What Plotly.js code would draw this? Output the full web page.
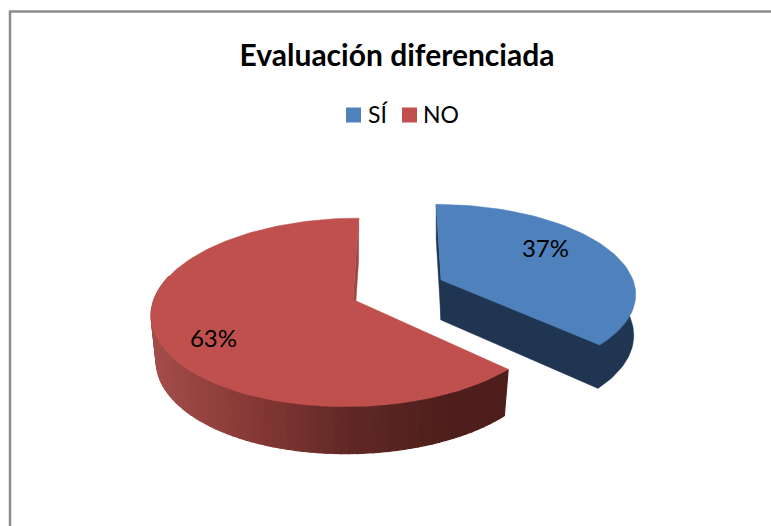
<!DOCTYPE html>
<html>
<head>
<meta charset="utf-8">
<script src="https://cdn.plot.ly/plotly-3.0.1.min.js"></script>
<style>html,body{margin:0;padding:0;background:#fff;overflow:hidden}</style>
</head>
<body>
<div id="chart" style="width:771px;height:526px"></div>
<script>
const titleText = 'Evaluación diferenciada';
const categories = ['SÍ', 'NO'];
const values = [37, 63];
const faceColors = ['#4f81bd', '#c0504d'];

const k = 0.137;
const blue = {cx: 441, cy: 280, rx: 192, ry: 86, shear: 5.5, d0: 40, d1: 5, wallScale: 0.99};
const red = {cx: 353, cy: 299.5, rx: 199, ry: 92.5, shear: -6.5, d0: 45, d1: 2, wallScale: 0.975};

const total = values[0] + values[1];
const sweep0 = values[0] / total * 360;

function upper(g, deg, r) {
  const t = deg * Math.PI / 180, u = Math.sin(t) * r, w = -Math.cos(t) * r, D = 1 - k * w;
  return [g.cx + (g.rx * u + g.shear * w) / D, g.cy + g.ry * w / D, w];
}
function lower(g, deg, r) {
  const p = upper(g, deg, r);
  return [g.cx + (p[0] - g.cx) * g.wallScale, p[1] + g.d0 + g.d1 * p[2]];
}
function arc(fn, g, a, b, n) {
  const out = [];
  for (let i = 0; i <= n; i++) out.push(fn(g, a + (b - a) * i / n, 1));
  return out;
}
function poly(points, color, line) {
  return {
    type: 'scatter', mode: 'lines', fill: 'toself', fillcolor: color,
    x: points.map(p => p[0]).concat([points[0][0]]),
    y: points.map(p => p[1]).concat([points[0][1]]),
    line: {color: color, width: line || 0.5}, hoverinfo: 'skip', showlegend: false
  };
}
const wallStops = [[155, [163, 76, 73]], [250, [134, 57, 54]], [345, [98, 41, 38]], [450, [77, 30, 27]], [520, [77, 30, 27]]];
function stopColor(x) {
  let c = wallStops[0][1];
  for (let i = 1; i < wallStops.length; i++) {
    if (x >= wallStops[i - 1][0]) {
      const f = Math.min(1, (x - wallStops[i - 1][0]) / (wallStops[i][0] - wallStops[i - 1][0]));
      c = wallStops[i - 1][1].map((v, j) => Math.round(v + (wallStops[i][1][j] - v) * f));
    }
  }
  return 'rgb(' + c.join(',') + ')';
}

const traces = [];

// blue walls
const blueWall = '#1f3551';
const bApex = upper(blue, 0, 0), bApexLow = lower(blue, 0, 0);
traces.push(poly([upper(blue, 0, 1), lower(blue, 0, 1), bApexLow, bApex], blueWall));
traces.push(poly([bApex, bApexLow].concat(arc(lower, blue, sweep0, 72, 40)).concat([upper(blue, 72, 1)]), blueWall));
traces.push(poly([bApex].concat(arc(upper, blue, 0, sweep0, 60)), faceColors[0], 0.5));

// red walls
const rApex = upper(red, 0, 0), rApexLow = lower(red, 0, 0);
traces.push(poly([upper(red, 360, 1), lower(red, 360, 1), rApexLow, rApex], '#9a4846'));
const strip = 2;
for (let a = sweep0; a < 285; a += strip) {
  const b = a + strip;
  const pts = [upper(red, a, 1), upper(red, b, 1), lower(red, b, 1), lower(red, a, 1)];
  traces.push(poly(pts, stopColor((pts[0][0] + pts[1][0]) / 2), 1.2));
}
traces.push(poly([rApex].concat(arc(upper, red, sweep0, 360, 140)), faceColors[1], 0.5));

// percent labels
traces.push({
  type: 'scatter', mode: 'text',
  x: [545.5, 213.5], y: [251, 341],
  text: values.map(v => v + '%'),
  textposition: 'middle center',
  textfont: {family: 'Lato, sans-serif', size: 24, color: '#000'},
  hoverinfo: 'skip', showlegend: false
});

// legend keys and names
const keyX = [353.5, 409.5];
const nameX = [368, 423];
const legendY = 115;
traces.push({
  type: 'scatter', mode: 'markers', x: keyX, y: keyX.map(() => legendY),
  marker: {symbol: 'square', size: 15, color: faceColors},
  hoverinfo: 'skip', showlegend: false
});
traces.push({
  type: 'scatter', mode: 'text', x: nameX, y: nameX.map(() => legendY + 2),
  text: categories, textposition: 'middle right',
  textfont: {family: 'Lato, sans-serif', size: 23, color: '#000'},
  hoverinfo: 'skip', showlegend: false
});

const layout = {
  width: 771, height: 526,
  margin: {l: 0, r: 0, t: 0, b: 0},
  paper_bgcolor: '#fff', plot_bgcolor: '#fff',
  showlegend: false,
  title: {
    text: '<b>' + titleText + '</b>',
    x: 397 / 771, xanchor: 'center', xref: 'paper',
    y: 1 - 55 / 526, yanchor: 'middle', yref: 'container',
    font: {family: 'Lato, sans-serif', size: 30, color: '#000'}
  },
  xaxis: {range: [0, 771], visible: false, fixedrange: true},
  yaxis: {range: [526, 0], visible: false, fixedrange: true},
  shapes: [
    {type: 'line', xref: 'x', yref: 'y', x0: 10, x1: 10, y0: 11.5, y1: 526, line: {color: '#8c8c8c', width: 2.5}},
    {type: 'line', xref: 'x', yref: 'y', x0: 9, x1: 771, y0: 11.5, y1: 11.5, line: {color: '#8c8c8c', width: 2.5}}
  ]
};
Plotly.newPlot('chart', traces, layout, {displayModeBar: false, staticPlot: true});
</script>
</body>
</html>
